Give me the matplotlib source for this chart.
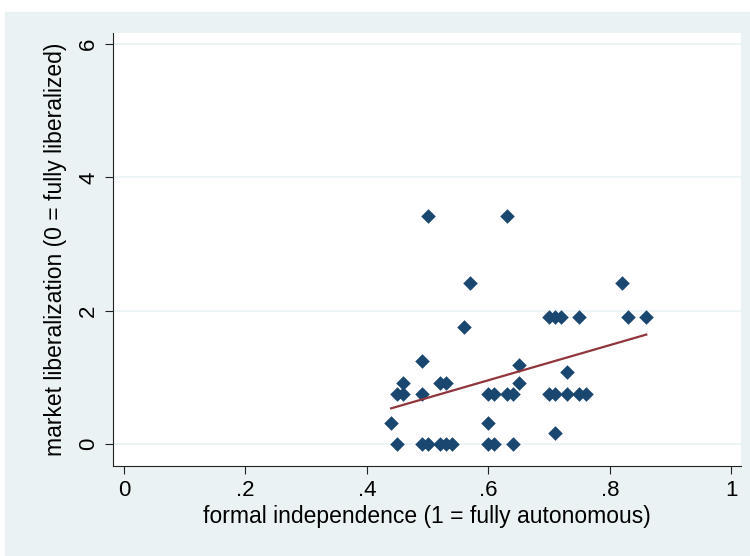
import numpy as np
import matplotlib.pyplot as plt

plt.rcParams['font.family'] = ['Liberation Sans', 'DejaVu Sans']

# formal independence vs market liberalization
independence = [0.50, 0.63, 0.57, 0.82, 0.56,
                0.70, 0.71, 0.72, 0.75, 0.83, 0.86,
                0.49, 0.65, 0.46, 0.52, 0.53, 0.65, 0.73,
                0.45, 0.46, 0.49, 0.60, 0.61, 0.63, 0.64, 0.70, 0.71, 0.73, 0.75, 0.76,
                0.44, 0.60, 0.71,
                0.45, 0.49, 0.50, 0.52, 0.53, 0.54, 0.60, 0.61, 0.64]
liberalization = [3.42, 3.42, 2.41, 2.41, 1.75,
                  1.91, 1.91, 1.91, 1.91, 1.91, 1.91,
                  1.25, 1.19, 0.92, 0.92, 0.92, 0.92, 1.08,
                  0.75, 0.75, 0.75, 0.75, 0.75, 0.75, 0.75, 0.75, 0.75, 0.75, 0.75, 0.75,
                  0.31, 0.31, 0.16,
                  0, 0, 0, 0, 0, 0, 0, 0, 0]

xticks = [0, 0.2, 0.4, 0.6, 0.8, 1]
xticklabels = ['0', '.2', '.4', '.6', '.8', '1']
yticks = [0, 2, 4, 6]

bg = '#eaf2f3'
fig = plt.figure(figsize=(7.5, 5.56), dpi=100)
fig.patches.append(plt.Rectangle((5 / 750, 0), 1, 1 - 12 / 556,
                                 transform=fig.transFigure, color=bg, zorder=-1))
ax = fig.add_axes([113 / 750, 1 - 466 / 556, 628 / 750, 433 / 556])
ax.set_facecolor('white')

for y in yticks:
    ax.axhline(y, color=bg, lw=1.2, zorder=0)

x = np.array(independence)
y = np.array(liberalization)
ax.scatter(x, y, marker='D', s=55, color='#1a476f', zorder=3, linewidths=0)

slope, intercept = np.polyfit(x, y, 1)
xs = np.array([x.min(), x.max()])
ax.plot(xs, intercept + slope * xs, color='#90353b', lw=1.6, zorder=4)

ax.set_xlim(-0.018, 1.016)
ax.set_ylim(-0.33, 6.165)
ax.set_xticks(xticks)
ax.set_xticklabels(xticklabels)
ax.set_yticks(yticks)
ax.set_yticklabels([str(t) for t in yticks], rotation=90, va='center')
ax.tick_params(labelsize=16, length=6, color='#222222', pad=4)

for s in ['top', 'right']:
    ax.spines[s].set_visible(False)
for s in ['left', 'bottom']:
    ax.spines[s].set_color('#222222')

ax.set_xlabel('formal independence (1 = fully autonomous)', fontsize=16.5, labelpad=3)
ax.set_ylabel('market liberalization (0 = fully liberalized)', fontsize=16.5, labelpad=8)

plt.savefig('out.png', facecolor='white')
